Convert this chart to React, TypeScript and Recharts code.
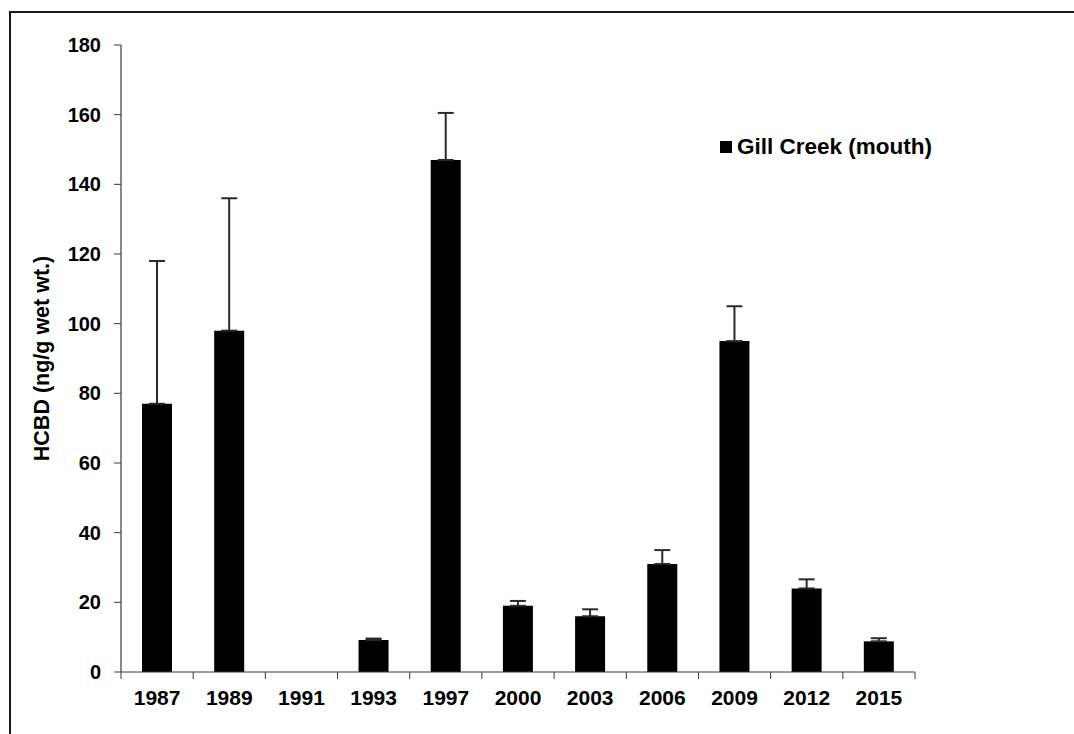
import React from 'react';
import { BarChart, Bar, XAxis, YAxis, ErrorBar } from 'recharts';

const years = ['1987', '1989', '1991', '1993', '1997', '2000', '2003', '2006', '2009', '2012', '2015'];
const hcbd: (number | null)[] = [77, 98, null, 9.2, 147, 19, 16, 31, 95, 24, 8.8];
const upperError: (number | null)[] = [41, 38, null, 0.4, 13.5, 1.4, 2, 4, 10, 2.6, 0.9];
const yTicks = [0, 20, 40, 60, 80, 100, 120, 140, 160, 180];
const seriesName = 'Gill Creek (mouth)';
const yLabel = 'HCBD (ng/g wet wt.)';

const data = years.map((year, i) => ({
  year,
  value: hcbd[i],
  err: upperError[i] == null ? null : [0, upperError[i] as number],
}));

const FONT = '"Liberation Sans", Arial, Helvetica, sans-serif';
const AXIS_COLOR = '#3a3a3a';

const XTick = (props: any) => {
  const { x, y, payload, index, visibleTicksCount } = props;
  const half = payload.offset || 0;
  const axisY = y - 18;
  return (
    <g>
      <line x1={x - half} x2={x - half} y1={axisY} y2={axisY + 7} stroke={AXIS_COLOR} strokeWidth={1} />
      {index === visibleTicksCount - 1 && (
        <line x1={x + half} x2={x + half} y1={axisY} y2={axisY + 7} stroke={AXIS_COLOR} strokeWidth={1} />
      )}
      <text x={x} y={y} dy="0.71em" textAnchor="middle" fill="#000" fontSize={21} fontWeight="bold" fontFamily={FONT}>
        {payload.value}
      </text>
    </g>
  );
};

export default function App() {
  return (
    <div style={{ position: 'absolute', left: 0, top: 0, width: 1074, height: 734, overflow: 'hidden', background: '#fff' }}>
      <div style={{ position: 'absolute', left: 9, top: 11, width: 1200, height: 900, border: '2px solid #1a1a1a' }} />
      <div style={{ position: 'absolute', left: 0, top: 0 }}>
        <BarChart
          width={1074}
          height={734}
          data={data}
          margin={{ top: 45, right: 159, bottom: 22, left: 0 }}
        >
          <XAxis
            xAxisId="main"
            dataKey="year"
            height={40}
            tickLine={false}
            tickSize={7}
            tickMargin={11}
            axisLine={{ stroke: AXIS_COLOR, strokeWidth: 1.2 }}
            tick={<XTick />}
            interval={0}
          />
          <XAxis xAxisId="top" dataKey="year" orientation="top" height={0} tick={false} tickLine={false} axisLine={{ stroke: '#c8c8c8' }} />
          <YAxis
            yAxisId="main"
            width={121}
            domain={[0, 180]}
            ticks={yTicks}
            interval={0}
            tickSize={7}
            tickMargin={13}
            axisLine={{ stroke: AXIS_COLOR, strokeWidth: 1.2 }}
            tickLine={{ stroke: AXIS_COLOR }}
            tick={{ fill: '#000', fontSize: 20, fontWeight: 'bold', fontFamily: FONT }}
            label={{
              value: yLabel,
              angle: -90,
              position: 'insideLeft',
              offset: 41,
              style: { textAnchor: 'middle', fill: '#000', fontSize: 21.5, fontWeight: 'bold', fontFamily: FONT },
            }}
          />
          <YAxis yAxisId="right" orientation="right" width={0} domain={[0, 180]} tick={false} tickLine={false} axisLine={{ stroke: '#c8c8c8' }} />
          <Bar xAxisId="main" yAxisId="main" dataKey="value" name={seriesName} fill="#000" barSize={30} isAnimationActive={false}>
            <ErrorBar dataKey="err" width={8} stroke="#2a2a2a" strokeWidth={2} direction="y" />
          </Bar>
        </BarChart>
      </div>
      <div
        style={{
          position: 'absolute',
          left: 720,
          top: 134,
          display: 'flex',
          alignItems: 'center',
          fontFamily: FONT,
          fontWeight: 'bold',
          fontSize: 22.5,
          color: '#000',
          whiteSpace: 'nowrap',
        }}
      >
        <span style={{ display: 'inline-block', width: 12, height: 12, background: '#000', marginRight: 5 }} />
        <span>{seriesName}</span>
      </div>
    </div>
  );
}
